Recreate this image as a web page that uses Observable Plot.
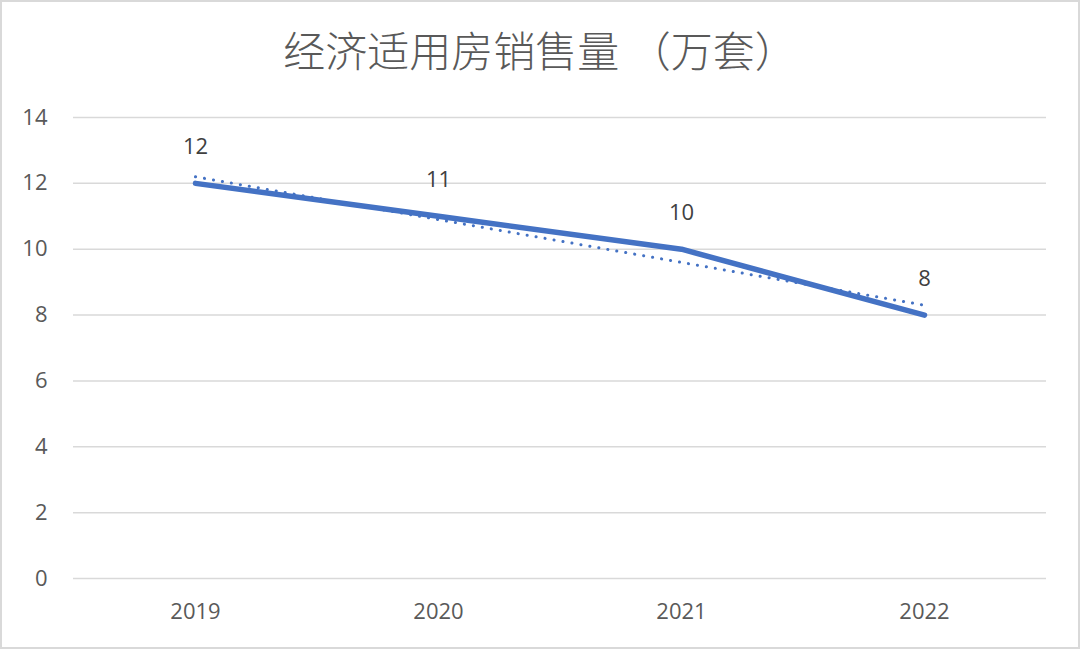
<!DOCTYPE html>
<html>
<head>
<meta charset="utf-8">
<script src="https://cdn.jsdelivr.net/npm/d3@7"></script>
<script src="https://cdn.jsdelivr.net/npm/@observablehq/plot@0.6"></script>
<style>
  html, body { margin: 0; padding: 0; background: #fff; }
  #wrap { position: relative; width: 1080px; height: 649px; overflow: hidden; background: #fff; }
  #title { position: absolute; top: 0; left: 0; width: 1080px; height: 95px; line-height: 98px; text-align: center;
           font-family: "Noto Sans CJK SC", sans-serif; font-weight: 300; font-size: 42px; color: #595959; }
  #chart { position: absolute; top: 95px; left: 0; }
  #frame { position: absolute; inset: 0; border: 2px solid #d9d9d9; pointer-events: none; }
</style>
</head>
<body>
<div id="wrap">
  <div id="title">经济适用房销售量 （万套）</div>
  <div id="chart"></div>
  <div id="frame"></div>
</div>
<script>
const years = ["2019", "2020", "2021", "2022"];
const sales = [12, 11, 10, 8];
const trend = [12.2, 10.9, 9.6, 8.3];
const yTicks = [0, 2, 4, 6, 8, 10, 12, 14];

const rows = years.map((y, i) => ({year: y, sales: sales[i], trend: trend[i]}));

const chart = Plot.plot({
  width: 1080,
  height: 554,
  marginLeft: 73,
  marginRight: 34,
  marginTop: 22,
  marginBottom: 71,
  style: {fontFamily: "'Open Sans', 'Noto Sans', sans-serif", background: "transparent"},
  x: {type: "point", domain: years, padding: 0.5, label: null},
  y: {domain: [0, 14], label: null},
  marks: [
    Plot.gridY(yTicks, {stroke: "#d9d9d9", strokeOpacity: 1, strokeWidth: 1.5}),
    Plot.axisY(yTicks, {tickSize: 0, tickPadding: 26, fontSize: 22, fill: "#595959", label: null}),
    Plot.axisX({tickSize: 0, tickPadding: 25, fontSize: 22, fill: "#595959", label: null}),
    Plot.line(rows, {x: "year", y: "trend", stroke: "#4472C4", strokeWidth: 3, strokeDasharray: "0.1 9", strokeLinecap: "round"}),
    Plot.line(rows, {x: "year", y: "sales", stroke: "#4472C4", strokeWidth: 5.5, strokeLinecap: "round", strokeLinejoin: "round"}),
    Plot.text(rows, {x: "year", y: "sales", text: d => String(d.sales), dy: -36, fontSize: 22, fill: "#404040"})
  ]
});
document.getElementById("chart").appendChild(chart);
</script>
</body>
</html>
